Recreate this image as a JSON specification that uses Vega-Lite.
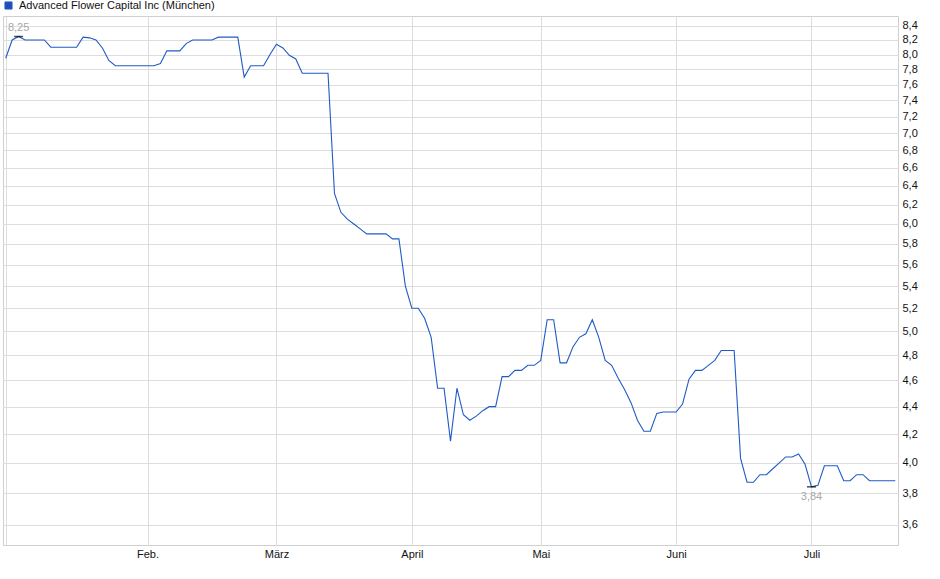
{
  "$schema": "https://vega.github.io/schema/vega-lite/v6.json",
  "width": 895,
  "height": 529,
  "autosize": {"type": "none"},
  "padding": {"left": 3, "top": 16, "right": 42, "bottom": 34},
  "config": {
    "font": "Liberation Sans",
    "locale": {"number": {"decimal": ",", "thousands": ".", "grouping": [3], "currency": ["", " €"]}},
    "view": {"stroke": "#cfcfcf", "strokeWidth": 1},
    "axis": {"gridColor": "#dddddd", "gridWidth": 1, "domain": false, "ticks": false, "tickSize": 0, "labelFontSize": 11, "labelColor": "#111111", "title": null}
  },
  "data": {"values": [
    {"date": "2025-01-02", "price": 7.95},
    {"date": "2025-01-03", "price": 8.20},
    {"date": "2025-01-06", "price": 8.25},
    {"date": "2025-01-07", "price": 8.20},
    {"date": "2025-01-08", "price": 8.20},
    {"date": "2025-01-09", "price": 8.20},
    {"date": "2025-01-10", "price": 8.20},
    {"date": "2025-01-13", "price": 8.10},
    {"date": "2025-01-14", "price": 8.10},
    {"date": "2025-01-15", "price": 8.10},
    {"date": "2025-01-16", "price": 8.10},
    {"date": "2025-01-17", "price": 8.10},
    {"date": "2025-01-20", "price": 8.24},
    {"date": "2025-01-21", "price": 8.23},
    {"date": "2025-01-22", "price": 8.20},
    {"date": "2025-01-23", "price": 8.09},
    {"date": "2025-01-24", "price": 7.92},
    {"date": "2025-01-27", "price": 7.85},
    {"date": "2025-01-28", "price": 7.85},
    {"date": "2025-01-29", "price": 7.85},
    {"date": "2025-01-30", "price": 7.85},
    {"date": "2025-01-31", "price": 7.85},
    {"date": "2025-02-03", "price": 7.85},
    {"date": "2025-02-04", "price": 7.85},
    {"date": "2025-02-05", "price": 7.88},
    {"date": "2025-02-06", "price": 8.05},
    {"date": "2025-02-07", "price": 8.05},
    {"date": "2025-02-10", "price": 8.05},
    {"date": "2025-02-11", "price": 8.15},
    {"date": "2025-02-12", "price": 8.20},
    {"date": "2025-02-13", "price": 8.20},
    {"date": "2025-02-14", "price": 8.20},
    {"date": "2025-02-17", "price": 8.20},
    {"date": "2025-02-18", "price": 8.24},
    {"date": "2025-02-19", "price": 8.24},
    {"date": "2025-02-20", "price": 8.24},
    {"date": "2025-02-21", "price": 8.24},
    {"date": "2025-02-24", "price": 7.70},
    {"date": "2025-02-25", "price": 7.85},
    {"date": "2025-02-26", "price": 7.85},
    {"date": "2025-02-27", "price": 7.85},
    {"date": "2025-02-28", "price": 8.00},
    {"date": "2025-03-03", "price": 8.14},
    {"date": "2025-03-04", "price": 8.09},
    {"date": "2025-03-05", "price": 7.99},
    {"date": "2025-03-06", "price": 7.94},
    {"date": "2025-03-07", "price": 7.75},
    {"date": "2025-03-10", "price": 7.75},
    {"date": "2025-03-11", "price": 7.75},
    {"date": "2025-03-12", "price": 7.75},
    {"date": "2025-03-13", "price": 7.75},
    {"date": "2025-03-14", "price": 6.32},
    {"date": "2025-03-17", "price": 6.12},
    {"date": "2025-03-18", "price": 6.05},
    {"date": "2025-03-19", "price": 6.00},
    {"date": "2025-03-20", "price": 5.95},
    {"date": "2025-03-21", "price": 5.90},
    {"date": "2025-03-24", "price": 5.90},
    {"date": "2025-03-25", "price": 5.90},
    {"date": "2025-03-26", "price": 5.90},
    {"date": "2025-03-27", "price": 5.85},
    {"date": "2025-03-28", "price": 5.85},
    {"date": "2025-03-31", "price": 5.40},
    {"date": "2025-04-01", "price": 5.20},
    {"date": "2025-04-02", "price": 5.20},
    {"date": "2025-04-03", "price": 5.11},
    {"date": "2025-04-04", "price": 4.95},
    {"date": "2025-04-07", "price": 4.54},
    {"date": "2025-04-08", "price": 4.54},
    {"date": "2025-04-09", "price": 4.15},
    {"date": "2025-04-10", "price": 4.54},
    {"date": "2025-04-11", "price": 4.34},
    {"date": "2025-04-14", "price": 4.30},
    {"date": "2025-04-15", "price": 4.33},
    {"date": "2025-04-16", "price": 4.37},
    {"date": "2025-04-17", "price": 4.40},
    {"date": "2025-04-22", "price": 4.40},
    {"date": "2025-04-23", "price": 4.63},
    {"date": "2025-04-24", "price": 4.63},
    {"date": "2025-04-25", "price": 4.68},
    {"date": "2025-04-28", "price": 4.68},
    {"date": "2025-04-29", "price": 4.72},
    {"date": "2025-04-30", "price": 4.72},
    {"date": "2025-05-02", "price": 4.76},
    {"date": "2025-05-05", "price": 5.10},
    {"date": "2025-05-06", "price": 5.10},
    {"date": "2025-05-07", "price": 4.74},
    {"date": "2025-05-08", "price": 4.74},
    {"date": "2025-05-09", "price": 4.87},
    {"date": "2025-05-12", "price": 4.95},
    {"date": "2025-05-13", "price": 4.98},
    {"date": "2025-05-14", "price": 5.10},
    {"date": "2025-05-15", "price": 4.95},
    {"date": "2025-05-16", "price": 4.76},
    {"date": "2025-05-19", "price": 4.72},
    {"date": "2025-05-20", "price": 4.62},
    {"date": "2025-05-21", "price": 4.53},
    {"date": "2025-05-22", "price": 4.43},
    {"date": "2025-05-23", "price": 4.30},
    {"date": "2025-05-26", "price": 4.22},
    {"date": "2025-05-27", "price": 4.22},
    {"date": "2025-05-28", "price": 4.35},
    {"date": "2025-05-29", "price": 4.36},
    {"date": "2025-05-30", "price": 4.36},
    {"date": "2025-06-02", "price": 4.36},
    {"date": "2025-06-03", "price": 4.42},
    {"date": "2025-06-04", "price": 4.61},
    {"date": "2025-06-05", "price": 4.68},
    {"date": "2025-06-06", "price": 4.68},
    {"date": "2025-06-09", "price": 4.72},
    {"date": "2025-06-10", "price": 4.76},
    {"date": "2025-06-11", "price": 4.84},
    {"date": "2025-06-12", "price": 4.84},
    {"date": "2025-06-13", "price": 4.84},
    {"date": "2025-06-16", "price": 4.03},
    {"date": "2025-06-17", "price": 3.87},
    {"date": "2025-06-18", "price": 3.87},
    {"date": "2025-06-19", "price": 3.92},
    {"date": "2025-06-20", "price": 3.92},
    {"date": "2025-06-23", "price": 3.96},
    {"date": "2025-06-24", "price": 4.00},
    {"date": "2025-06-25", "price": 4.04},
    {"date": "2025-06-26", "price": 4.04},
    {"date": "2025-06-27", "price": 4.06},
    {"date": "2025-06-30", "price": 3.99},
    {"date": "2025-07-01", "price": 3.84},
    {"date": "2025-07-02", "price": 3.85},
    {"date": "2025-07-03", "price": 3.98},
    {"date": "2025-07-04", "price": 3.98},
    {"date": "2025-07-07", "price": 3.98},
    {"date": "2025-07-08", "price": 3.88},
    {"date": "2025-07-09", "price": 3.88},
    {"date": "2025-07-10", "price": 3.92},
    {"date": "2025-07-11", "price": 3.92},
    {"date": "2025-07-14", "price": 3.88},
    {"date": "2025-07-15", "price": 3.88},
    {"date": "2025-07-16", "price": 3.88},
    {"date": "2025-07-17", "price": 3.88},
    {"date": "2025-07-18", "price": 3.88}
  ]},
  "encoding": {
    "x": {
      "field": "date", "type": "ordinal",
      "scale": {"type": "point", "padding": 0.42},
      "axis": {
        "orient": "bottom",
        "values": ["2025-01-02", "2025-02-03", "2025-03-03", "2025-04-01", "2025-05-02", "2025-06-02", "2025-07-01"],
        "labelExpr": "datum.value == '2025-02-03' ? 'Feb.' : datum.value == '2025-03-03' ? 'März' : datum.value == '2025-04-01' ? 'April' : datum.value == '2025-05-02' ? 'Mai' : datum.value == '2025-06-02' ? 'Juni' : datum.value == '2025-07-01' ? 'Juli' : ''",
        "labelAngle": 0,
        "labelBaseline": "top",
        "labelPadding": 3,
        "grid": true
      }
    },
    "y": {
      "field": "price", "type": "quantitative",
      "scale": {"type": "log", "domain": [3.479, 8.541], "nice": false, "zero": false},
      "axis": {
        "orient": "right",
        "values": [3.6, 3.8, 4.0, 4.2, 4.4, 4.6, 4.8, 5.0, 5.2, 5.4, 5.6, 5.8, 6.0, 6.2, 6.4, 6.6, 6.8, 7.0, 7.2, 7.4, 7.6, 7.8, 8.0, 8.2, 8.4],
        "format": ".1f",
        "labelPadding": 4,
        "grid": true
      }
    }
  },
  "layer": [
    {
      "mark": {"type": "line", "strokeWidth": 1.1, "interpolate": "linear"},
      "encoding": {
        "color": {
          "datum": "Advanced Flower Capital Inc (München)",
          "scale": {"range": ["#1f5bc6"]},
          "legend": {
            "orient": "none", "legendX": 0, "legendY": -16, "title": null,
            "symbolType": "square", "symbolSize": 50, "padding": 0,
            "labelFontSize": 11, "labelColor": "#111111", "labelOffset": 5, "labelLimit": 0,
            "encode": {"symbols": {"update": {"fill": {"value": "#1f4fb5"}, "stroke": {"value": "#0b2660"}, "strokeWidth": {"value": 1}}}}
          }
        }
      }
    },
    {
      "transform": [
        {"joinaggregate": [{"op": "max", "field": "price", "as": "mx"}, {"op": "min", "field": "price", "as": "mn"}]},
        {"filter": "datum.price == datum.mx || datum.price == datum.mn"}
      ],
      "mark": {"type": "tick", "orient": "horizontal", "color": "#000000", "size": 9, "thickness": 1.5}
    },
    {
      "transform": [
        {"joinaggregate": [{"op": "max", "field": "price", "as": "mx"}]},
        {"filter": "datum.price == datum.mx"}
      ],
      "mark": {"type": "text", "dy": -8.5, "fontSize": 11, "color": "#a8a8a8", "baseline": "middle", "align": "center"},
      "encoding": {"text": {"field": "price", "type": "quantitative", "format": ".2f"}}
    },
    {
      "transform": [
        {"joinaggregate": [{"op": "min", "field": "price", "as": "mn"}]},
        {"filter": "datum.price == datum.mn"}
      ],
      "mark": {"type": "text", "dy": 10.5, "fontSize": 11, "color": "#a8a8a8", "baseline": "middle", "align": "center"},
      "encoding": {"text": {"field": "price", "type": "quantitative", "format": ".2f"}}
    }
  ]
}
